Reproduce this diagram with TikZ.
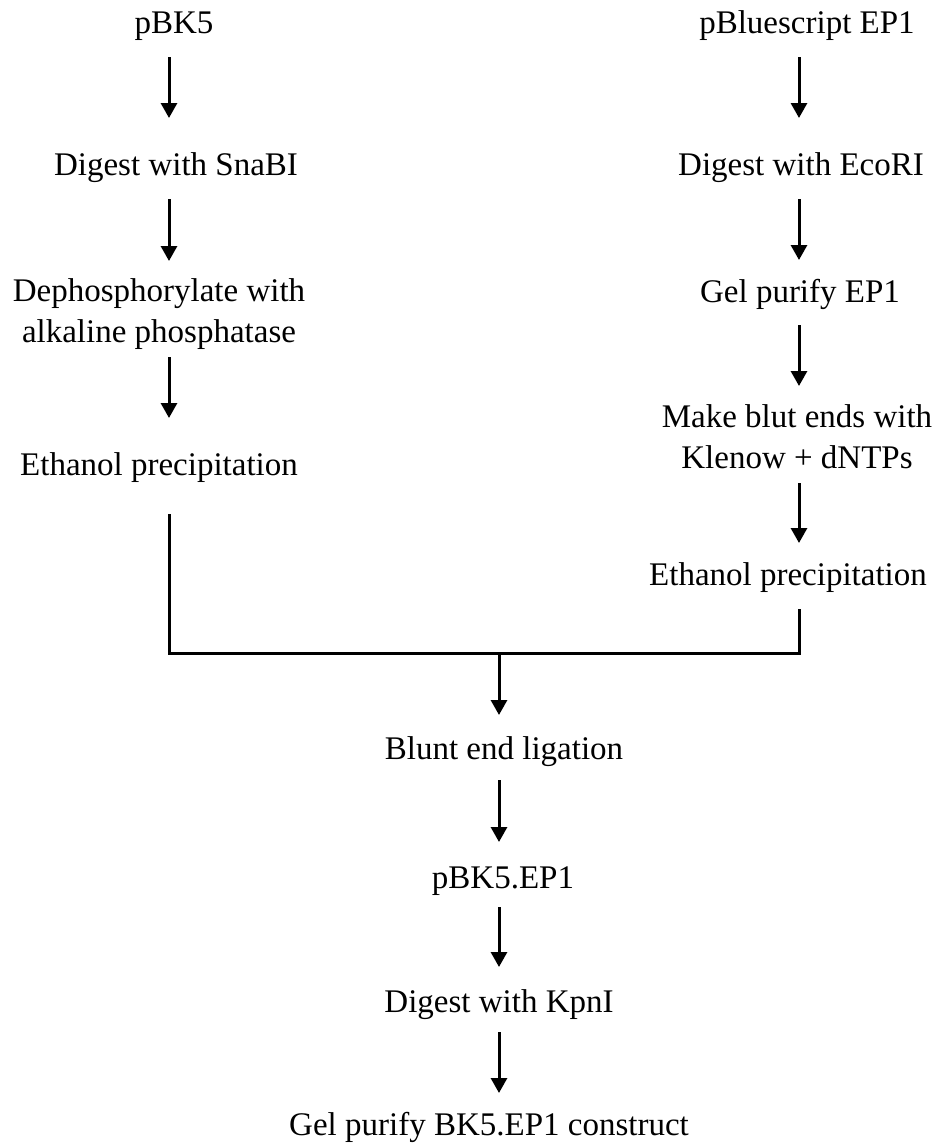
\documentclass[tikz,border=0pt]{standalone}
\usepackage{fontspec}
\setmainfont{Liberation Serif}
\usetikzlibrary{arrows.meta,calc}
\begin{document}
\begin{tikzpicture}[x=1pt,y=-1pt,
  lbl/.style={anchor=base, inner sep=0pt, font=\fontsize{33}{41}\selectfont, align=center},
  arr/.style={line width=3pt, -{Triangle[width=16pt,length=15pt]}},
  ln/.style={line width=3pt, line join=miter}]
\useasboundingbox (0,0) rectangle (939,1146);
\coordinate (cL) at (169,0);
\coordinate (cR) at (799,0);
\coordinate (cM) at (499,0);
% left column
\node[lbl] (l1) at (174,33) {pBK5};
\node[lbl] (l2) at (176,175) {Digest with SnaBI};
\node[lbl] (l3) at (159,342) {Dephosphorylate with\\alkaline phosphatase};
\node[lbl] (l4) at (159,475) {Ethanol precipitation};
% right column
\node[lbl] (r1) at (807,33) {pBluescript EP1};
\node[lbl] (r2) at (801,175) {Digest with EcoRI};
\node[lbl] (r3) at (800,302) {Gel purify EP1};
\node[lbl] (r4) at (797,468) {Make blut ends with\\Klenow + dNTPs};
\node[lbl] (r5) at (788,585) {Ethanol precipitation};
% middle column
\node[lbl] (m1) at (504,759) {Blunt end ligation};
\node[lbl] (m2) at (503,888) {pBK5.EP1};
\node[lbl] (m3) at (499,1012) {Digest with KpnI};
\node[lbl] (m4) at (489,1135) {Gel purify BK5.EP1 construct};
\coordinate (bl) at (169,653);
\coordinate (br) at (799,653);
\coordinate (jm) at (499,653);
% left arrows
\draw[arr] ($(l1.base -| cL)+(0,24)$) -- ($(l2.base -| cL)+(0,-57)$);
\draw[arr] ($(l2.base -| cL)+(0,24)$) -- ($(l3.base -| cL)+(0,-81)$);
\draw[arr] ($(l3.base -| cL)+(0,15)$) -- ($(l4.base -| cL)+(0,-57)$);
% right arrows
\draw[arr] ($(r1.base -| cR)+(0,24)$) -- ($(r2.base -| cR)+(0,-57)$);
\draw[arr] ($(r2.base -| cR)+(0,24)$) -- ($(r3.base -| cR)+(0,-42)$);
\draw[arr] ($(r3.base -| cR)+(0,23)$) -- ($(r4.base -| cR)+(0,-82)$);
\draw[arr] ($(r4.base -| cR)+(0,15)$) -- ($(r5.base -| cR)+(0,-42)$);
% join
\draw[ln] ($(l4.base -| cL)+(0,39)$) -- (bl) -- (br) -- ($(r5.base -| cR)+(0,24)$);
\draw[arr] (jm) -- ($(m1.base -| cM)+(0,-44)$);
% middle arrows
\draw[arr] ($(m1.base -| cM)+(0,21)$) -- ($(m2.base -| cM)+(0,-46)$);
\draw[arr] ($(m2.base -| cM)+(0,19)$) -- ($(m3.base -| cM)+(0,-45)$);
\draw[arr] ($(m3.base -| cM)+(0,20)$) -- ($(m4.base -| cM)+(0,-42)$);
\end{tikzpicture}
\end{document}
